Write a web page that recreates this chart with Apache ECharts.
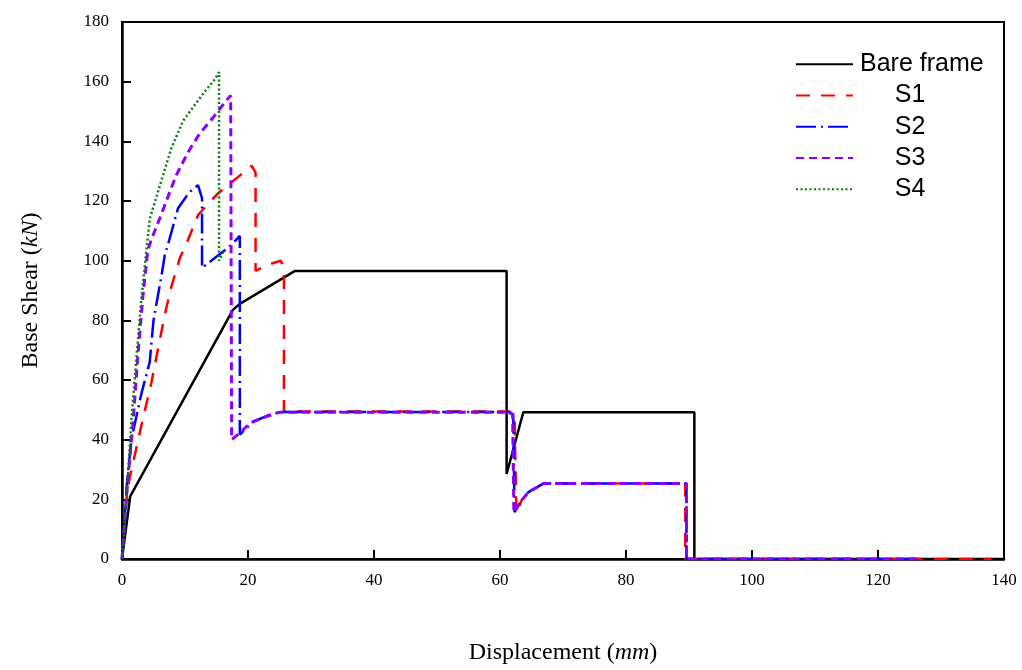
<!DOCTYPE html>
<html>
<head>
<meta charset="utf-8">
<script src="https://cdn.jsdelivr.net/npm/echarts@6/dist/echarts.min.js"></script>
<style>html,body{margin:0;padding:0;background:#fff}#c{width:1022px;height:670px}</style>
</head>
<body>
<div id="c"></div>
<script>
var seriesNames = ['Bare frame', 'S1', 'S2', 'S3', 'S4'];
var xTicks = [0, 20, 40, 60, 80, 100, 120, 140];
var yTicks = [0, 20, 40, 60, 80, 100, 120, 140, 160, 180];

var bareFrame = [[0,0],[1.3,21],[17.6,83.5],[18.7,85.5],[27.4,96.5],[61.05,96.5],[61.05,28.5],[63.7,49.2],[90.85,49.2],[90.85,0],[140,0]];
var s1 = [[0,0],[0.7,20],[1.2,27],[3.1,45],[4.65,59],[6.8,82],[7.8,91],[9.2,101],[10.2,105.5],[12.1,115.4],[15.2,122.5],[18.4,128],[20.6,131.8],[21.2,129.5],[21.2,96.6],[23.3,98.7],[25.2,100],[25.7,97.5],[25.7,49.4],[61.5,49.4],[62.3,48.5],[62.6,15.3],[63.4,19.6],[64.5,22.4],[66.9,25.3],[89.4,25.3],[89.4,0],[138,0]];
var s2 = [[0,0],[0.75,24.6],[1.5,40.2],[2.06,45.6],[3.1,55.6],[4.4,66],[5,80],[6.3,95.4],[6.8,102],[7.3,105.4],[8.9,117.6],[10.7,123],[12.06,125.3],[12.7,121],[12.7,97.6],[16.2,103.3],[17.7,106],[18.7,108.3],[18.7,41.7],[20.8,46],[23,48],[25,49.3],[61.3,49.3],[62.1,48.5],[62.3,15.7],[63.4,19.6],[64.5,22.4],[66.9,25.3],[89.6,25.3],[89.6,0],[127,0]];
var s3 = [[0,0],[0.5,15],[0.95,26.9],[1.75,45.6],[2.5,67.7],[3.3,87.7],[4.1,103.6],[4.65,107],[6.2,115.3],[8.6,128.6],[10.5,136.4],[12.3,142.5],[14.7,148.6],[15.9,151.9],[17.25,155.4],[17.4,40],[17.6,39.5],[19,42.8],[20.3,45.6],[23,47.8],[25,49.2],[61.3,49.2],[62,48.5],[62.2,15.5],[63.4,19.6],[64.5,22.4],[66.9,25.3],[89.6,25.3],[89.6,0],[127,0]];
var s4 = [[0,0],[0.75,21.3],[1.5,46.8],[2.3,67.7],[3.1,87.7],[3.9,104],[4.4,114],[5.7,123],[7.8,137.5],[9.7,146.9],[12.6,155.2],[14.7,160.7],[15.4,163.2],[15.4,100],[16.2,103.5]];

var colors = ['#000000', '#ff0000', '#0000ff', '#8b00ff', '#008000'];
var dashes = ['solid', [14, 11], [20, 5, 2, 5], [8, 5], [2, 2.5]];
var widths = [2.5, 2.5, 2.5, 3, 2.5];
var allData = [bareFrame, s1, s2, s3, s4];
var legendPad = {'Bare frame': 'Bare frame', 'S1': '     S1', 'S2': '     S2', 'S3': '     S3', 'S4': '     S4'};

var chart = echarts.init(document.getElementById('c'), null, {renderer: 'canvas'});
var serif = '"Liberation Serif", "Times New Roman", serif';
var sans = '"Liberation Sans", Arial, sans-serif';

var series = seriesNames.map(function (n, i) {
  return {
    name: n, type: 'line', data: allData[i], showSymbol: false, symbol: 'none',
    animation: false, z: 2 + i,
    lineStyle: {color: colors[i], width: widths[i], type: dashes[i]},
    itemStyle: {color: colors[i]}
  };
});

chart.setOption({
  animation: false,
  backgroundColor: '#fff',
  grid: {left: 122, right: 18, top: 22, bottom: 106, show: true, borderColor: '#000', borderWidth: 2, backgroundColor: 'transparent'},
  legend: {
    orient: 'vertical', left: 790, top: 46, itemWidth: 57, itemHeight: 14, itemGap: 5,
    data: seriesNames,
    itemStyle: {opacity: 0},
    formatter: function (n) { return legendPad[n]; },
    textStyle: {fontFamily: sans, fontSize: 25, color: '#000', lineHeight: 26.3, padding: [0, 0, 0, 2]}
  },
  xAxis: {
    type: 'value', min: xTicks[0], max: xTicks[xTicks.length - 1], interval: 20,
    axisLine: {show: true, onZero: false, lineStyle: {color: '#000', width: 2.5}},
    axisTick: {show: true, inside: true, length: 9, lineStyle: {color: '#000', width: 2}},
    splitLine: {show: false},
    axisLabel: {color: '#000', fontFamily: serif, fontSize: 17, margin: 13},
    name: 'Displacement ({i|mm})', nameLocation: 'middle', nameGap: 82,
    nameTextStyle: {fontFamily: serif, fontSize: 24, color: '#000', rich: {i: {fontFamily: serif, fontSize: 24, fontStyle: 'italic', color: '#000'}}}
  },
  yAxis: {
    type: 'value', min: yTicks[0], max: yTicks[yTicks.length - 1], interval: 20,
    axisLine: {show: true, onZero: false, lineStyle: {color: '#000', width: 2.5}},
    axisTick: {show: true, inside: true, length: 9, lineStyle: {color: '#000', width: 2}},
    splitLine: {show: false},
    axisLabel: {color: '#000', fontFamily: serif, fontSize: 17, margin: 13},
    name: 'Base Shear ({i|kN})', nameLocation: 'middle', nameGap: 79,
    nameTextStyle: {fontFamily: serif, fontSize: 24, color: '#000', rich: {i: {fontFamily: serif, fontSize: 24, fontStyle: 'italic', color: '#000'}}}
  },
  series: series
});
</script>
</body>
</html>
